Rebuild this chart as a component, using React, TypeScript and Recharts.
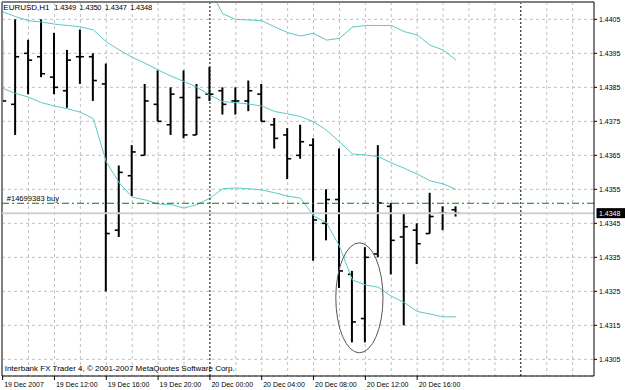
import React from 'react';
import {
  ComposedChart,
  Bar,
  Line,
  XAxis,
  YAxis,
  CartesianGrid,
  ReferenceLine,
  ReferenceDot,
} from 'recharts';

// ---- data (hourly bars, index 0 = 19 Dec 2007 08:00) ----
const hours = [
  0, 1, 2, 3, 4, 5, 6, 7, 8, 9, 10, 11, 12, 13, 14, 15, 16, 17,
  18, 19, 20, 21, 22, 23, 24, 25, 26, 27, 28, 29, 30, 31, 32, 33, 34, 35,
];
const opens = [
  1.4392, 1.438, 1.4395, 1.4394, 1.4388, 1.4384, 1.4394, 1.4394, 1.4386, 1.4343, 1.4359, 1.4365,
  1.438, 1.4374, 1.4382, 1.4371, 1.4383, 1.4384, 1.4381, 1.4381, 1.4383, 1.4374, 1.4371, 1.4365,
  1.4368, 1.4345, 1.4352, 1.433, 1.4317, 1.4336, 1.435, 1.4341, 1.4343, 1.4342, 1.4348, 1.4349,
];
const highs = [
  1.4399, 1.4405, 1.4399, 1.4405, 1.4401, 1.4396, 1.4402, 1.4395, 1.4392, 1.4362, 1.4368, 1.4386,
  1.439, 1.4385, 1.439, 1.4386, 1.4391, 1.4385, 1.4385, 1.4387, 1.4386, 1.4376, 1.4373, 1.4374,
  1.437, 1.4355, 1.4367, 1.4331, 1.4338, 1.4368, 1.4351, 1.4348, 1.4345, 1.4354, 1.435, 1.435,
];
const lows = [
  1.4381, 1.4371, 1.4383, 1.4388, 1.4383, 1.4379, 1.4386, 1.4381, 1.4325, 1.4341, 1.4353, 1.4365,
  1.4375, 1.4371, 1.437, 1.4371, 1.4381, 1.4377, 1.4377, 1.4378, 1.4375, 1.4367, 1.4358, 1.4364,
  1.4334, 1.434, 1.4326, 1.431, 1.431, 1.4335, 1.433, 1.4315, 1.4333, 1.4342, 1.4343, 1.4347,
];
const closes = [
  1.4381, 1.4394, 1.4393, 1.4389, 1.4385, 1.4393, 1.4394, 1.4387, 1.4342, 1.436, 1.4366, 1.4381,
  1.4375, 1.4383, 1.4371, 1.4382, 1.4383, 1.438, 1.4381, 1.4384, 1.4375, 1.437, 1.4364, 1.4369,
  1.4346, 1.4352, 1.4331, 1.4316, 1.4335, 1.4351, 1.434, 1.4344, 1.4339, 1.4347, 1.4348, 1.4348,
];
const bandUpper: (number | null)[] = [
  null, null, null, null, null, null, null, null, null, null, null, null, null, null, null, null,
  1.44136, 1.44066, 1.4405, 1.44048, 1.44046, 1.44028, 1.44011, 1.44001, 1.44009, 1.43989,
  1.43994, 1.44027, 1.44032, 1.44032, 1.44032, 1.44014, 1.44004, 1.43974, 1.4396, 1.4393,
];
const bandMiddle = [
  1.44072, 1.44058, 1.44046, 1.44042, 1.44036, 1.44032, 1.44028, 1.44019, 1.43984, 1.4396,
  1.43938, 1.43921, 1.43901, 1.43883, 1.43867, 1.4385, 1.43827, 1.43808, 1.43805, 1.43801,
  1.43795, 1.43779, 1.43772, 1.43764, 1.43749, 1.43724, 1.4369, 1.43654, 1.43651, 1.43646,
  1.43628, 1.43612, 1.43595, 1.43575, 1.43566, 1.4355,
];
const bandLower = [
  1.43847, 1.43832, 1.43821, 1.43805, 1.43795, 1.43787, 1.43777, 1.43758, 1.43631, 1.43569,
  1.43527, 1.43519, 1.43507, 1.43505, 1.43495, 1.43505, 1.43524, 1.43552, 1.43554, 1.43552,
  1.43548, 1.4354, 1.4353, 1.43524, 1.43472, 1.43452, 1.43383, 1.43283, 1.43269, 1.43262,
  1.43236, 1.43217, 1.43191, 1.43183, 1.43175, 1.43175,
];

const timeTicks = [0, 4, 8, 12, 16, 20, 24, 28, 32];
const timeLabels = [
  '19 Dec 2007', '19 Dec 12:00', '19 Dec 16:00', '19 Dec 20:00', '20 Dec 00:00',
  '20 Dec 04:00', '20 Dec 08:00', '20 Dec 12:00', '20 Dec 16:00',
];
const priceTicks = [
  1.4305, 1.4315, 1.4325, 1.4335, 1.4345, 1.4355, 1.4365, 1.4375, 1.4385, 1.4395, 1.4405,
];
const gridHours = [2, 4, 6, 8, 10, 12, 14, 18, 20, 22, 24, 26, 28, 30, 32, 34, 36, 38, 42, 44];
const separatorHours = [16, 40];
const xDomain = [-0.05, 45.65];
const yDomain = [1.43001, 1.44101];

const symbolName = 'EURUSD,H1';
const lastQuotes = [1.4349, 1.435, 1.4347, 1.4348];
const bidPrice = 1.4348;
const orderPrice = 1.43509;
const orderLabel = '#14699383 buy';
const highlightCenter = { hour: 27.54, price: 1.43231 };
const copyright = 'Interbank FX Trader 4, \u00A9 2001-2007 MetaQuotes Software Corp.';

const rows = hours.map((t, i) => ({
  t,
  range: [lows[i], highs[i]],
  open: opens[i],
  high: highs[i],
  low: lows[i],
  close: closes[i],
  upper: bandUpper[i],
  middle: bandMiddle[i],
  lower: bandLower[i],
}));

const FONT = "'Liberation Sans', Arial, sans-serif";
const BAND = '#5cc8c8';
const GRID = '#c0c0c0';

const OhlcShape = (props: any) => {
  const { x, y, width, height, payload } = props;
  if (x == null || y == null) return null;
  const top = Math.min(y, y + height);
  const h = Math.abs(height);
  const cx = x + width / 2;
  const span = payload.high - payload.low;
  const yOf = (v: number) => (span > 0 ? top + ((payload.high - v) / span) * h : top);
  const yo = yOf(payload.open);
  const yc = yOf(payload.close);
  return (
    <g>
      <line x1={cx} x2={cx} y1={top} y2={top + Math.max(h, 1)} stroke="#000" strokeWidth={2} />
      <line x1={cx - 4} x2={cx} y1={yo} y2={yo} stroke="#000" strokeWidth={1.6} />
      <line x1={cx} x2={cx + 4} y1={yc} y2={yc} stroke="#000" strokeWidth={1.6} />
    </g>
  );
};

const TimeTick = (props: any) => {
  const { x, y, payload } = props;
  const idx = timeTicks.indexOf(payload.value);
  return (
    <text x={x + 1.5} y={y + 4.7} fontSize={7} fontFamily={FONT} fill="#000" textAnchor="start">
      {idx >= 0 ? timeLabels[idx] : ''}
    </text>
  );
};

const PriceTick = (props: any) => {
  const { x, y, payload } = props;
  return (
    <text x={x} y={y + 2.5} fontSize={7} fontFamily={FONT} fill="#000" textAnchor="start">
      {Number(payload.value).toFixed(4)}
    </text>
  );
};

const BidTag = (props: any) => {
  const vb = props.viewBox || {};
  const right = (vb.x || 0) + (vb.width || 0);
  const cy = vb.y || 0;
  return (
    <g>
      <rect x={right + 2.5} y={cy - 5} width={29} height={10} fill="#000" />
      <text x={right + 5} y={cy + 2.5} fontSize={7} fontFamily={FONT} fill="#fff" textAnchor="start">
        {bidPrice.toFixed(4)}
      </text>
    </g>
  );
};

const OrderTag = (props: any) => {
  const vb = props.viewBox || {};
  return (
    <text x={(vb.x || 0) + 4.7} y={(vb.y || 0) - 1.8} fontSize={7.6} fontFamily={FONT} fill="#000">
      {orderLabel}
    </text>
  );
};

const EllipseMark = (props: any) => {
  const { cx, cy } = props;
  if (cx == null || cy == null) return null;
  return <ellipse cx={cx} cy={cy} rx={23.6} ry={55} fill="none" stroke="#555" strokeWidth={1} />;
};

export default function App() {
  return (
    <div style={{ position: 'absolute', left: 0, top: 0, width: 625, height: 390, background: '#fff' }}>
      <ComposedChart
        width={625}
        height={390}
        data={rows}
        margin={{ top: 2, right: 0, bottom: 0, left: 2 }}
      >
        <CartesianGrid vertical={false} stroke={GRID} strokeDasharray="3 3" />
        <CartesianGrid
          horizontal={false}
          verticalValues={gridHours}
          stroke={GRID}
          strokeDasharray="3 3"
        />
        <XAxis
          dataKey="t"
          type="number"
          domain={xDomain}
          ticks={timeTicks}
          interval={0}
          allowDataOverflow
          height={14}
          tickSize={4}
          tickMargin={2}
          stroke="#000"
          tickLine={{ stroke: '#000' }}
          axisLine={{ stroke: '#000' }}
          tick={<TimeTick />}
        />
        <YAxis
          orientation="right"
          type="number"
          domain={yDomain}
          ticks={priceTicks}
          interval={0}
          allowDataOverflow
          width={31}
          tickSize={3}
          tickMargin={2}
          tickLine={{ stroke: '#000' }}
          axisLine={{ stroke: '#000' }}
          tick={<PriceTick />}
        />
        <Line dataKey="upper" stroke={BAND} strokeWidth={1} dot={false} isAnimationActive={false} />
        <Line dataKey="middle" stroke={BAND} strokeWidth={1} dot={false} isAnimationActive={false} />
        <Line dataKey="lower" stroke={BAND} strokeWidth={1} dot={false} isAnimationActive={false} />
        <Bar dataKey="range" barSize={8} shape={<OhlcShape />} isAnimationActive={false} />
        {separatorHours.map((h) => (
          <ReferenceLine key={'s' + h} x={h} stroke="#000" strokeDasharray="2 2" />
        ))}
        <ReferenceLine x={xDomain[0]} stroke="#808080" strokeWidth={2} />
        <ReferenceLine y={yDomain[1]} stroke="#808080" strokeWidth={2} />
        <ReferenceLine y={bidPrice} stroke="#d0d0d0" strokeWidth={2} label={<BidTag />} />
        <ReferenceLine
          y={orderPrice}
          stroke="#008000"
          strokeDasharray="7 3 2 3"
          label={<OrderTag />}
        />
        <ReferenceDot
          x={highlightCenter.hour}
          y={highlightCenter.price}
          r={1}
          shape={<EllipseMark />}
        />
      </ComposedChart>
      <div
        style={{
          position: 'absolute',
          left: 3.3,
          top: 3.9,
          fontFamily: FONT,
          fontSize: 8,
          lineHeight: '8px',
          whiteSpace: 'pre',
          color: '#000',
          pointerEvents: 'none',
        }}
      >
        <span style={{ display: 'inline-block', width: 51 }}>{symbolName}</span>
        {lastQuotes.map((q, i) => (
          <span
            key={i}
            style={{ display: 'inline-block', width: 25.3, fontSize: 7.5, letterSpacing: -0.2 }}
          >
            {q.toFixed(4)}
          </span>
        ))}
      </div>
      <div
        style={{
          position: 'absolute',
          left: 4.7,
          top: 364.7,
          fontFamily: FONT,
          fontSize: 8,
          lineHeight: '8px',
          whiteSpace: 'pre',
          color: '#000',
          pointerEvents: 'none',
        }}
      >
        {copyright}
      </div>
    </div>
  );
}
